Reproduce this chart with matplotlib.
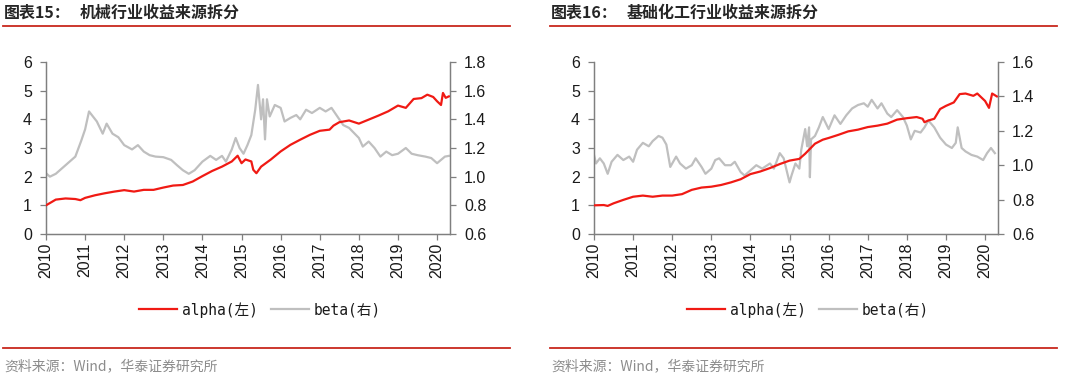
import numpy as np
import matplotlib
matplotlib.use("Agg")
import matplotlib.pyplot as plt
from matplotlib.lines import Line2D
from matplotlib.ticker import FormatStrFormatter

plt.rcParams['font.family'] = ['Liberation Sans', 'Noto Sans CJK SC', 'DejaVu Sans']

# ---- data ----
years = list(range(2010, 2021))

# 图表15 机械
alpha15_t = [2010.0, 2010.15, 2010.25, 2010.5, 2010.75, 2010.88, 2011.0, 2011.25, 2011.5, 2011.75,
             2012.0, 2012.25, 2012.5, 2012.75, 2013.0, 2013.25, 2013.5, 2013.75, 2014.0, 2014.25,
             2014.5, 2014.75, 2014.9, 2015.0, 2015.1, 2015.25, 2015.3, 2015.38, 2015.5, 2015.75,
             2016.0, 2016.25, 2016.5, 2016.75, 2017.0, 2017.25, 2017.35, 2017.5, 2017.75, 2018.0,
             2018.25, 2018.5, 2018.75, 2019.0, 2019.2, 2019.4, 2019.6, 2019.75, 2019.9, 2020.0,
             2020.1, 2020.15, 2020.22, 2020.3]
alpha15 = [1.0, 1.12, 1.2, 1.24, 1.22, 1.18, 1.26, 1.35, 1.42, 1.48,
           1.53, 1.48, 1.54, 1.54, 1.62, 1.69, 1.71, 1.83, 2.02, 2.2,
           2.35, 2.53, 2.73, 2.47, 2.6, 2.53, 2.24, 2.12, 2.35, 2.6,
           2.88, 3.11, 3.29, 3.46, 3.6, 3.64, 3.78, 3.9, 3.96, 3.85,
           3.99, 4.13, 4.28, 4.48, 4.4, 4.71, 4.74, 4.86, 4.78, 4.63,
           4.5, 4.92, 4.75, 4.8]

beta15_t = [2010.0, 2010.1, 2010.25, 2010.5, 2010.75, 2010.9, 2011.0, 2011.1, 2011.2, 2011.3,
            2011.45, 2011.55, 2011.7, 2011.85, 2012.0, 2012.2, 2012.35, 2012.5, 2012.65, 2012.8,
            2013.0, 2013.2, 2013.35, 2013.5, 2013.65, 2013.8, 2014.0, 2014.2, 2014.35, 2014.5,
            2014.6, 2014.75, 2014.85, 2014.95, 2015.05, 2015.15, 2015.25, 2015.35, 2015.42, 2015.5,
            2015.55, 2015.6, 2015.65, 2015.72, 2015.85, 2016.0, 2016.1, 2016.25, 2016.4, 2016.5,
            2016.65, 2016.8, 2017.0, 2017.15, 2017.3, 2017.45, 2017.6, 2017.75, 2018.0, 2018.1,
            2018.25, 2018.4, 2018.55, 2018.7, 2018.85, 2019.0, 2019.2, 2019.35, 2019.5, 2019.7,
            2019.85, 2020.0, 2020.1, 2020.2, 2020.3]
beta15 = [1.024, 1.0, 1.02, 1.08, 1.14, 1.25, 1.33, 1.455, 1.42, 1.385,
          1.30, 1.37, 1.30, 1.275, 1.22, 1.19, 1.22, 1.175, 1.15, 1.14,
          1.136, 1.117, 1.08, 1.045, 1.02, 1.045, 1.105, 1.145, 1.117, 1.145,
          1.105, 1.19, 1.27, 1.2, 1.16, 1.22, 1.29, 1.467, 1.64, 1.40,
          1.54, 1.26, 1.54, 1.42, 1.50, 1.48, 1.385, 1.41, 1.43, 1.40,
          1.467, 1.444, 1.48, 1.455, 1.48, 1.42, 1.36, 1.34, 1.27, 1.21,
          1.245, 1.2, 1.14, 1.175, 1.15, 1.16, 1.2, 1.16, 1.15, 1.14,
          1.13, 1.094, 1.117, 1.14, 1.145]

# 图表16 基础化工
alpha16_t = [2010.0, 2010.25, 2010.35, 2010.5, 2010.75, 2011.0, 2011.25, 2011.5, 2011.75, 2012.0,
             2012.25, 2012.5, 2012.75, 2013.0, 2013.25, 2013.5, 2013.75, 2014.0, 2014.25, 2014.5,
             2014.75, 2015.0, 2015.25, 2015.4, 2015.5, 2015.65, 2015.85, 2016.0, 2016.25, 2016.5,
             2016.75, 2017.0, 2017.25, 2017.5, 2017.75, 2018.0, 2018.25, 2018.4, 2018.45, 2018.55,
             2018.7, 2018.85, 2019.0, 2019.2, 2019.35, 2019.5, 2019.7, 2019.8, 2020.0, 2020.1,
             2020.18, 2020.3]
alpha16 = [1.0, 1.01, 0.98, 1.07, 1.19, 1.3, 1.34, 1.3, 1.34, 1.34,
           1.39, 1.54, 1.62, 1.65, 1.71, 1.8, 1.91, 2.09, 2.18, 2.3,
           2.44, 2.56, 2.62, 2.8, 2.94, 3.15, 3.29, 3.35, 3.46, 3.58,
           3.64, 3.73, 3.78, 3.85, 3.99, 4.04, 4.08, 4.02, 3.9, 3.96,
           4.02, 4.36, 4.47, 4.59, 4.88, 4.9, 4.82, 4.9, 4.64, 4.4,
           4.9, 4.8]

beta16_t = [2010.0, 2010.05, 2010.15, 2010.25, 2010.35, 2010.45, 2010.6, 2010.75, 2010.9, 2011.0,
            2011.1, 2011.25, 2011.4, 2011.5, 2011.65, 2011.75, 2011.85, 2011.95, 2012.1, 2012.2,
            2012.35, 2012.5, 2012.6, 2012.75, 2012.85, 2013.0, 2013.1, 2013.2, 2013.35, 2013.5,
            2013.6, 2013.75, 2013.85, 2014.0, 2014.15, 2014.3, 2014.5, 2014.6, 2014.75, 2014.85,
            2015.0, 2015.05, 2015.15, 2015.25, 2015.3, 2015.4, 2015.45, 2015.5, 2015.52, 2015.55,
            2015.65, 2015.75, 2015.85, 2016.0, 2016.15, 2016.3, 2016.45, 2016.6, 2016.75, 2016.9,
            2017.0, 2017.1, 2017.25, 2017.35, 2017.5, 2017.6, 2017.75, 2017.9, 2018.0, 2018.1,
            2018.2, 2018.35, 2018.45, 2018.55, 2018.7, 2018.85, 2019.0, 2019.15, 2019.25, 2019.3,
            2019.4, 2019.5, 2019.65, 2019.8, 2019.95, 2020.05, 2020.15, 2020.25]
beta16 = [1.06, 1.01, 1.04, 1.01, 0.95, 1.02, 1.06, 1.03, 1.05, 1.02,
          1.09, 1.13, 1.11, 1.14, 1.17, 1.16, 1.12, 0.99, 1.05, 1.01,
          0.98, 1.0, 1.04, 0.99, 0.95, 0.98, 1.03, 1.04, 1.0, 1.0,
          1.02, 0.96, 0.94, 0.97, 1.0, 0.98, 1.01, 0.98, 1.07, 1.04,
          0.9, 0.94, 1.01, 0.98, 1.09, 1.21, 1.11, 1.22, 0.93, 1.15,
          1.17, 1.22, 1.28, 1.21, 1.29, 1.24, 1.29, 1.33, 1.35, 1.36,
          1.34, 1.38, 1.33, 1.36, 1.30, 1.28, 1.32, 1.28, 1.23, 1.15,
          1.2, 1.19, 1.22, 1.26, 1.22, 1.16, 1.12, 1.1, 1.13, 1.22,
          1.1, 1.08, 1.06, 1.05, 1.03, 1.07, 1.1, 1.07]

panels = [
    dict(label='图表15：', title='机械行业收益来源拆分', at=alpha15_t, a=alpha15,
         bt=beta15_t, b=beta15, bticks=[0.6, 0.8, 1.0, 1.2, 1.4, 1.6, 1.8], x0=0.0),
    dict(label='图表16：', title='基础化工行业收益来源拆分', at=alpha16_t, a=alpha16,
         bt=beta16_t, b=beta16, bticks=[0.6, 0.8, 1.0, 1.2, 1.4, 1.6], x0=547 / 1080),
]

RED = '#F01A14'
GRAY = '#BFBFBF'
TXT = '#1A1A1A'
cjk = ['Noto Sans CJK SC', 'DejaVu Sans']
legfont = ['DejaVu Sans Mono', 'Noto Sans CJK SC']

fig = plt.figure(figsize=(10.8, 3.81), dpi=100)
W, H = 1080, 381

for i, p in enumerate(panels):
    xoff = p['x0'] * W
    left = (46 + xoff + (1 if i else 0)) / W
    ax = fig.add_axes([left, 1 - 234 / H, 404 / W, 172 / H])
    ax2 = ax.twinx()

    l1, = ax.plot(p['at'], p['a'], color=RED, lw=1.6, zorder=3)
    l2, = ax2.plot(p['bt'], p['b'], color=GRAY, lw=1.6, zorder=2)
    ax.set_zorder(ax2.get_zorder() + 1)
    ax.patch.set_visible(False)

    ax.set_xlim(2010, 2020.33)
    ax.set_ylim(0, 6)
    ax.set_yticks(range(0, 7))
    ax.set_xticks(years)
    ax.set_xticklabels([str(y) for y in years], rotation=90)
    ax2.set_ylim(p['bticks'][0], p['bticks'][-1])
    ax2.set_yticks(p['bticks'])
    ax2.yaxis.set_major_formatter(FormatStrFormatter('%.1f'))

    for a in (ax, ax2):
        a.spines['top'].set_visible(False)
        for s in a.spines.values():
            s.set_color('#7F7F7F')
            s.set_linewidth(0.9)
        a.tick_params(direction='out', length=4, width=0.9, color='#7F7F7F',
                      labelsize=11.5, labelcolor=TXT, pad=2)
    ax.tick_params(axis='y', pad=6)
    ax2.tick_params(axis='y', pad=6)

    leg = ax.legend([l1, l2], ['alpha(左)', 'beta(右)'], loc='center',
                    bbox_to_anchor=(0.53, -0.44), ncol=2, frameon=False,
                    handlelength=2.6, columnspacing=0.9, handletextpad=0.35,
                    prop={'family': legfont, 'size': 10.5})
    for t in leg.get_texts():
        t.set_color(TXT)

    # title, rules and source
    fig.text((4 + xoff) / W, 1 - 13 / H, p['label'], ha='left', va='center',
             fontsize=11.5, fontweight='bold', family=cjk, color='#262626')
    fig.text((80 + xoff) / W, 1 - 13 / H, p['title'], ha='left', va='center',
             fontsize=11.5, fontweight='bold', family=cjk, color='#262626')
    for yy in (26, 348):
        fig.add_artist(Line2D([(3 + xoff) / W, (510 + xoff) / W], [1 - yy / H] * 2,
                              color='#C8281E', lw=1.3))
    fig.text((4 + xoff) / W, 1 - 366 / H, '资料来源：Wind，华泰证券研究所', ha='left',
             va='center', fontsize=10, family=cjk, color='#8C8C8C')

fig.savefig('out.png', dpi=100, facecolor='white')
